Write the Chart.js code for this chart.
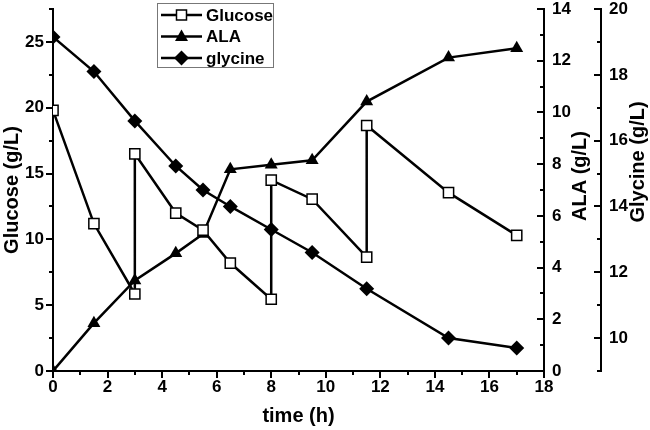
<!DOCTYPE html>
<html>
<head>
<meta charset="utf-8">
<script src="https://cdn.jsdelivr.net/npm/chart.js@4.4.1/dist/chart.umd.min.js"></script>
<style>
  html, body { margin: 0; padding: 0; background: #fff; }
  #wrap { width: 650px; height: 430px; }
</style>
</head>
<body>
<div id="wrap"><canvas id="chart" width="650" height="430"></canvas></div>
<script>
// glucose was sampled twice at feed times (before / after feeding)
const glucoseTime = [0, 1.5, 3, 3, 4.5, 5.5, 6.5, 8, 8, 9.5, 11.5, 11.5, 14.5, 17];
const glucoseVal = [19.8, 11.2, 5.85, 16.5, 12.0, 10.7, 8.2, 5.45, 14.5, 13.05, 8.65, 18.65, 13.55, 10.3];

const sampleTime = [0, 1.5, 3, 4.5, 5.5, 6.5, 8, 9.5, 11.5, 14.5, 17];
const alaVal = [0, 1.85, 3.5, 4.55, 5.3, 7.8, 7.98, 8.15, 10.42, 12.12, 12.48];
const glycineVal = [19.15, 18.1, 16.6, 15.23, 14.5, 14.0, 13.3, 12.6, 11.5, 10.0, 9.7];

const seriesNames = ['Glucose', 'ALA', 'glycine'];
const xTitle = 'time (h)';
const glucoseTitle = 'Glucose (g/L)';
const alaTitle = 'ALA (g/L)';
const glycineTitle = 'Glycine (g/L)';

const FONT = '"Liberation Sans", Arial, Helvetica, sans-serif';

function pts(xs, ys) {
    return xs.map((x, i) => ({ x: x, y: ys[i] }));
}

// tick marks: major + minor, each scale with its own direction
const tickSpec = {
    x:  { major: 2, minor: 1, min: 0, max: 18 },
    y:  { major: 5, minor: 2.5, min: 0, max: 27.5 },
    y1: { major: 2, minor: 1, min: 0, max: 14 },
    y2: { major: 2, minor: 1, min: 9, max: 20 }
};

const tickPlugin = {
    id: 'ticks',
    afterDraw(chart) {
        const ctx = chart.ctx;
        ctx.save();
        ctx.strokeStyle = '#000';
        ctx.lineWidth = 2;
        Object.keys(tickSpec).forEach(id => {
            const s = chart.scales[id];
            const t = tickSpec[id];
            for (let v = t.min; v <= t.max + 1e-6; v += t.minor) {
                const isMajor = Math.abs(v / t.major - Math.round(v / t.major)) < 1e-6;
                const len = isMajor ? 7 : 4;
                const p = Math.round(s.getPixelForValue(v));
                ctx.beginPath();
                if (id === 'x') {
                    ctx.moveTo(p, s.top);
                    ctx.lineTo(p, s.top + len);
                } else {
                    const ax = s.position === 'left' ? s.right : s.left;
                    ctx.moveTo(ax, p);
                    ctx.lineTo(ax - len, p);
                }
                ctx.stroke();
            }
        });
        ctx.restore();
    }
};

// right-hand axis titles read bottom-to-top
const rightTitles = {
    id: 'rightTitles',
    afterDraw(chart) {
        const ctx = chart.ctx;
        ctx.save();
        ctx.fillStyle = '#000';
        ctx.font = 'bold 20px ' + FONT;
        ctx.textAlign = 'center';
        ctx.textBaseline = 'middle';
        [[alaTitle, chart.scales.y1.right - 21, 176], [glycineTitle, chart.scales.y2.right - 12, 162]].forEach(([txt, x, y]) => {
            ctx.save();
            ctx.translate(x, y);
            ctx.rotate(-Math.PI / 2);
            ctx.fillText(txt, 0, 0);
            ctx.restore();
        });
        ctx.restore();
    }
};

function drawMarker(ctx, style, x, y) {
    ctx.beginPath();
    if (style === 'rect') {
        ctx.rect(x - 5, y - 5, 10, 10);
        ctx.fillStyle = '#fff';
        ctx.fill();
        ctx.lineWidth = 1.5;
        ctx.stroke();
    } else if (style === 'triangle') {
        ctx.moveTo(x, y - 7);
        ctx.lineTo(x + 6.5, y + 4.5);
        ctx.lineTo(x - 6.5, y + 4.5);
        ctx.closePath();
        ctx.fillStyle = '#000';
        ctx.fill();
    } else {
        ctx.moveTo(x, y - 7.5);
        ctx.lineTo(x + 7.5, y);
        ctx.lineTo(x, y + 7.5);
        ctx.lineTo(x - 7.5, y);
        ctx.closePath();
        ctx.fillStyle = '#000';
        ctx.fill();
    }
}

const legendBox = {
    id: 'legendBox',
    afterDraw(chart) {
        const ctx = chart.ctx;
        const styles = ['rect', 'triangle', 'rectRot'];
        ctx.save();
        ctx.fillStyle = '#fff';
        ctx.fillRect(157, 3, 116, 64);
        ctx.strokeStyle = '#777';
        ctx.lineWidth = 1;
        ctx.strokeRect(157.5, 3.5, 116, 64);
        ctx.font = 'bold 17px ' + FONT;
        ctx.textBaseline = 'middle';
        seriesNames.forEach((name, i) => {
            const y = 15 + i * 21.5;
            ctx.strokeStyle = '#000';
            ctx.lineWidth = 2.5;
            ctx.beginPath();
            ctx.moveTo(161, y);
            ctx.lineTo(202, y);
            ctx.stroke();
            ctx.strokeStyle = '#000';
            drawMarker(ctx, styles[i], 181.5, y);
            ctx.fillStyle = '#000';
            ctx.fillText(name, 206, y + 1);
        });
        ctx.restore();
    }
};

const tickFont = { family: FONT, size: 17, weight: 'bold' };

// fixed axis sizes; drop the label overhang padding so the plot reaches the top
function fixV(w) {
    return s => { s.width = w; s.paddingTop = 0; s.paddingBottom = 0; };
}

new Chart(document.getElementById('chart'), {
    type: 'line',
    data: {
        datasets: [{
            label: seriesNames[0],
            data: pts(glucoseTime, glucoseVal),
            yAxisID: 'y',
            borderColor: '#000',
            borderWidth: 2.5,
            pointStyle: 'rect',
            pointRadius: 7.2,
            pointBorderWidth: 1.5,
            pointBackgroundColor: '#fff',
            pointBorderColor: '#000'
        }, {
            label: seriesNames[1],
            data: pts(sampleTime, alaVal),
            yAxisID: 'y1',
            borderColor: '#000',
            borderWidth: 2.5,
            pointStyle: 'triangle',
            pointRadius: 7.5,
            pointBorderWidth: 0,
            pointBackgroundColor: '#000'
        }, {
            label: seriesNames[2],
            data: pts(sampleTime, glycineVal),
            yAxisID: 'y2',
            borderColor: '#000',
            borderWidth: 2.5,
            pointStyle: 'rectRot',
            pointRadius: 7.5,
            pointBorderWidth: 0,
            pointBackgroundColor: '#000'
        }]
    },
    options: {
        responsive: false,
        animation: false,
        devicePixelRatio: 1,
        layout: { padding: { top: 9, left: 0, right: 0, bottom: 0 } },
        plugins: {
            legend: { display: false },
            tooltip: { enabled: false }
        },
        elements: { line: { tension: 0 } },
        scales: {
            x: {
                type: 'linear',
                min: 0,
                max: 18,
                grid: { display: false, drawTicks: false },
                border: { display: true, color: '#000', width: 2 },
                ticks: { stepSize: 2, color: '#000', font: tickFont, padding: 6, maxRotation: 0 },
                title: { display: true, text: xTitle, color: '#000', font: { family: FONT, size: 20, weight: 'bold' }, padding: { top: 0, bottom: 2 } },
                afterFit(s) { s.height = 59; s.paddingLeft = 0; s.paddingRight = 0; }
            },
            y: {
                position: 'left',
                min: 0,
                max: 27.5,
                grid: { display: false, drawTicks: false },
                border: { display: true, color: '#000', width: 2 },
                ticks: {
                    stepSize: 5, color: '#000', font: tickFont, padding: 9,
                    callback: v => (v % 5 === 0 ? v : '')
                },
                title: { display: true, text: glucoseTitle, color: '#000', font: { family: FONT, size: 20, weight: 'bold' }, padding: { top: 0, bottom: 0 } },
                afterFit: fixV(53)
            },
            y1: {
                position: 'right',
                min: 0,
                max: 14,
                grid: { display: false, drawTicks: false },
                border: { display: true, color: '#000', width: 2 },
                ticks: { stepSize: 2, color: '#000', font: tickFont, padding: 8 },
                afterFit: fixV(57)
            },
            y2: {
                position: 'right',
                min: 9,
                max: 20,
                grid: { display: false, drawTicks: false },
                border: { display: true, color: '#000', width: 2 },
                ticks: {
                    stepSize: 2, color: '#000', font: tickFont, padding: 8,
                    callback: v => (v % 2 === 0 ? v : '')
                },
                afterFit: fixV(49)
            }
        }
    },
    plugins: [tickPlugin, rightTitles, legendBox]
});
</script>
</body>
</html>
